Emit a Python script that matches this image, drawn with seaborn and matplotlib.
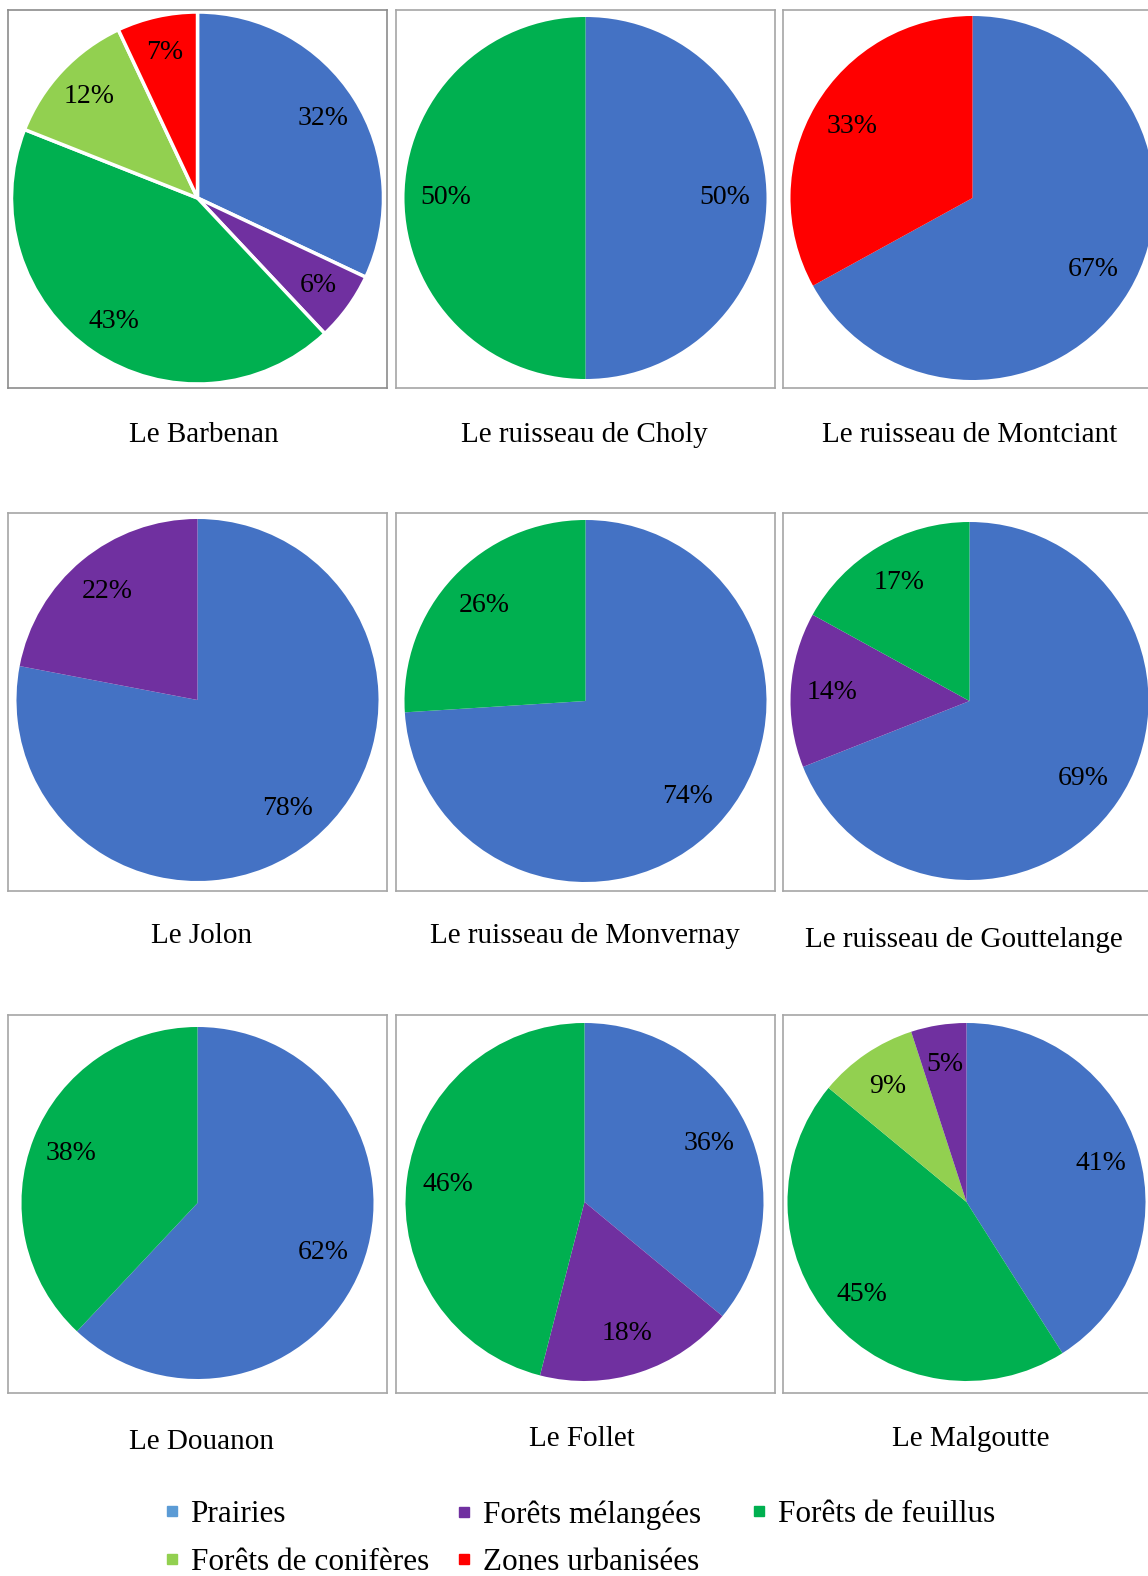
import matplotlib
matplotlib.use('Agg')
import matplotlib.pyplot as plt
from matplotlib.lines import Line2D
import seaborn as sns

sns.set_theme(style='white')
plt.rcParams['font.family'] = ['Liberation Serif', 'DejaVu Serif']

# land-use classes
categories = ['Prairies', 'Forêts mélangées', 'Forêts de feuillus',
              'Forêts de conifères', 'Zones urbanisées']
cat_colors = {'Prairies': '#4472C4', 'Forêts mélangées': '#7030A0',
              'Forêts de feuillus': '#00B050', 'Forêts de conifères': '#92D050',
              'Zones urbanisées': '#FF0000'}
legend_colors = {**cat_colors, 'Prairies': '#5B9BD5'}

sites = ['Le Barbenan', 'Le ruisseau de Choly', 'Le ruisseau de Montciant',
         'Le Jolon', 'Le ruisseau de Monvernay', 'Le ruisseau de Gouttelange',
         'Le Douanon', 'Le Follet', 'Le Malgoutte']

# slices of each pie, clockwise from 12 o'clock
barbenan_cats = ['Prairies', 'Forêts mélangées', 'Forêts de feuillus', 'Forêts de conifères', 'Zones urbanisées']
barbenan_vals = [32, 6, 43, 12, 7]
choly_cats = ['Prairies', 'Forêts de feuillus']
choly_vals = [50, 50]
montciant_cats = ['Prairies', 'Zones urbanisées']
montciant_vals = [67, 33]
jolon_cats = ['Prairies', 'Forêts mélangées']
jolon_vals = [78, 22]
monvernay_cats = ['Prairies', 'Forêts de feuillus']
monvernay_vals = [74, 26]
gouttelange_cats = ['Prairies', 'Forêts mélangées', 'Forêts de feuillus']
gouttelange_vals = [69, 14, 17]
douanon_cats = ['Prairies', 'Forêts de feuillus']
douanon_vals = [62, 38]
follet_cats = ['Prairies', 'Forêts mélangées', 'Forêts de feuillus']
follet_vals = [36, 18, 46]
malgoutte_cats = ['Prairies', 'Forêts de feuillus', 'Forêts de conifères', 'Forêts mélangées']
malgoutte_vals = [41, 45, 9, 5]

pie_cats = [barbenan_cats, choly_cats, montciant_cats, jolon_cats, monvernay_cats,
            gouttelange_cats, douanon_cats, follet_cats, malgoutte_cats]
pie_vals = [barbenan_vals, choly_vals, montciant_vals, jolon_vals, monvernay_vals,
            gouttelange_vals, douanon_vals, follet_vals, malgoutte_vals]

# layout (pixels)
W, H = 1148, 1576
col_left = [8, 396, 783]
row_top = [10, 513, 1015]
box_w, box_h = 379, 378
radius_px = [186, 181, 182, 181, 181, 179, 176, 179, 179]
pie_dx = [0, 0, 0, 0, 0, -3, 0, -1, -6]
pie_dy = [1, 1, 1, 2, 1, 1, 1, 2, 2]
pct_dist = [0.8, 0.77, 0.77, 0.78, 0.77, 0.77, 0.77, 0.77, 0.78]
title_dx = [6, -1, -3, 4, -1, -9, 4, -4, -2]
title_dy = [47, 47, 47, 45, 45, 49, 49, 46, 46]

fig = plt.figure(figsize=(W / 100, H / 100), dpi=100)
fig.patch.set_facecolor('white')

for i, (site, cats, vals) in enumerate(zip(sites, pie_cats, pie_vals)):
    r, c = divmod(i, 3)
    x0, y0 = col_left[c], row_top[r]
    ax = fig.add_axes([x0 / W, 1 - (y0 + box_h) / H, box_w / W, box_h / H])
    lw = 2.5 if i == 0 else 0
    ax.pie(vals, colors=[cat_colors[k] for k in cats], startangle=90,
           counterclock=False, autopct='%d%%', pctdistance=pct_dist[i],
           wedgeprops=dict(edgecolor='white', linewidth=lw),
           textprops=dict(fontsize=20, color='black'))
    sx = box_w / 2 / radius_px[i]
    sy = box_h / 2 / radius_px[i]
    offx = -pie_dx[i] / radius_px[i]
    offy = -pie_dy[i] / radius_px[i]
    ax.set_xlim(-sx + offx, sx + offx)
    ax.set_ylim(-sy + offy, sy + offy)
    ax.set_aspect('auto')
    ax.set_frame_on(True)
    for sp in ax.spines.values():
        sp.set_visible(True)
        sp.set_color('#8C8C8C' if i == 0 else '#A6A6A6')
        sp.set_linewidth(1.2)
    ax.set_xticks([])
    ax.set_yticks([])
    ax.text(0.5 + title_dx[i] / box_w, -title_dy[i] / box_h, site,
            transform=ax.transAxes, ha='center', va='center',
            fontsize=21, color='black')

# legend: three columns placed like the original
legend_cols = [['Prairies', 'Forêts de conifères'],
               ['Forêts mélangées', 'Zones urbanisées'],
               ['Forêts de feuillus']]
legend_x = [164, 456, 751]
for names, lx in zip(legend_cols, legend_x):
    handles = [Line2D([], [], marker='s', linestyle='', markersize=7,
                      color=legend_colors[k]) for k in names]
    fig.legend(handles, names, loc='upper left',
               bbox_to_anchor=(lx / W, 1 - 1500 / H), frameon=False,
               fontsize=22.5, labelcolor='black', handlelength=0.5,
               handletextpad=0.35, labelspacing=0.6,
               borderpad=0, borderaxespad=0)

fig.savefig('out.png', dpi=100)
